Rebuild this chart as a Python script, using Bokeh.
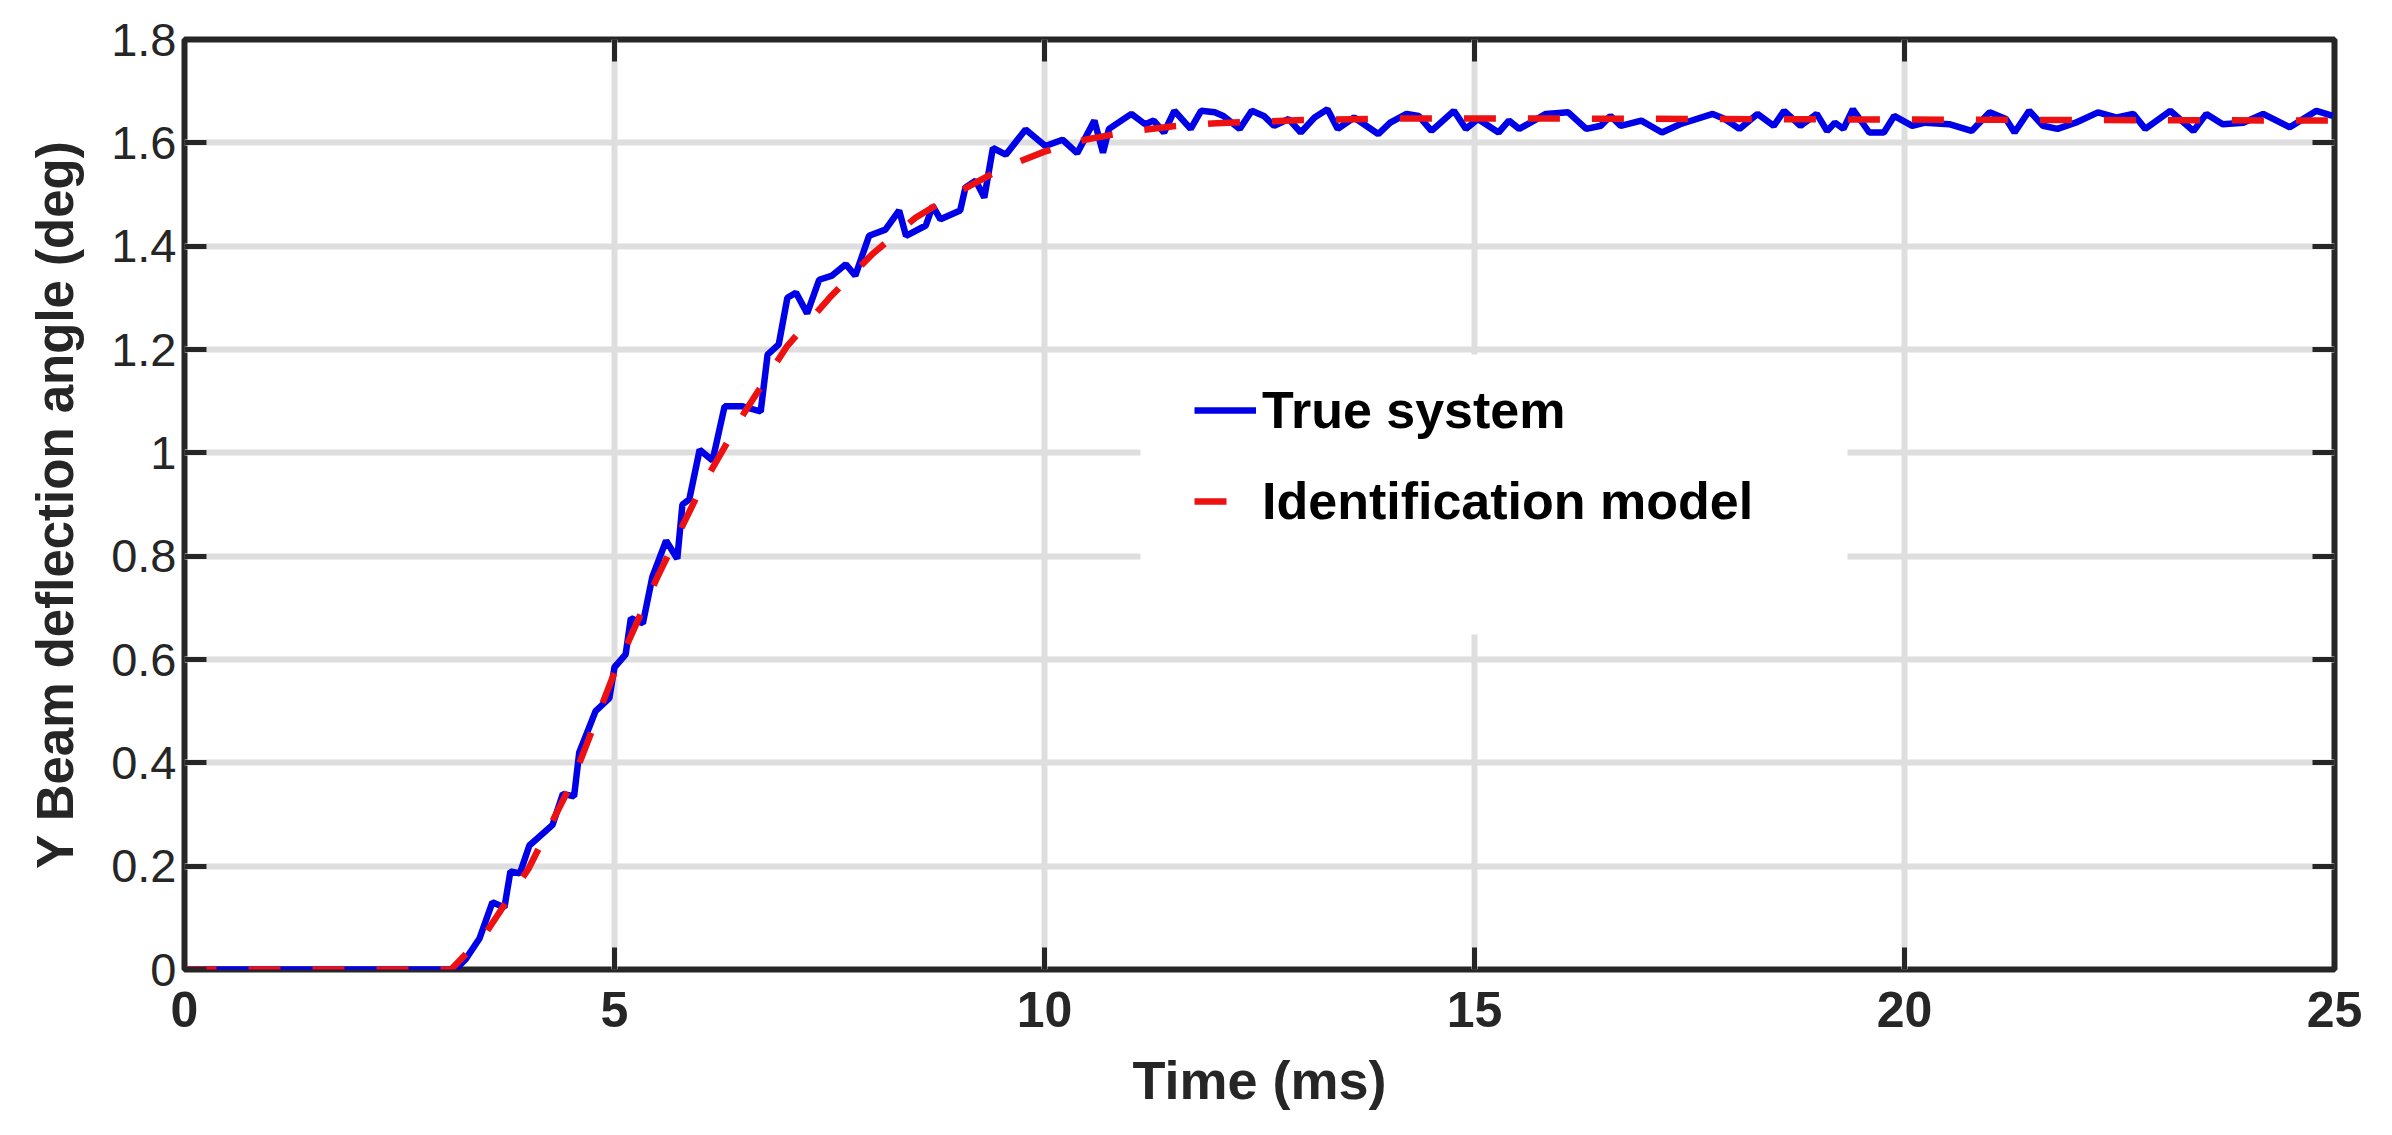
from bokeh.plotting import figure
from bokeh.models import Legend, LegendItem, LinearAxis, FixedTicker, BoxAnnotation
from bokeh.embed import file_html
from bokeh.resources import INLINE

# ---- data ----
t_true = [0, 3.15, 3.27, 3.43, 3.58, 3.72, 3.79, 3.90, 4.01, 4.28, 4.40, 4.53, 4.59, 4.78,
          4.94, 5.00, 5.13, 5.19, 5.33, 5.44, 5.60, 5.73, 5.79, 5.87, 5.99, 6.14, 6.28, 6.49,
          6.70, 6.78, 6.91, 7.01, 7.11, 7.24, 7.38, 7.53, 7.69, 7.80, 7.96, 8.15, 8.31, 8.39,
          8.62, 8.70, 8.79, 9.02, 9.08, 9.20, 9.30, 9.40, 9.55, 9.78, 10.01, 10.21, 10.38,
          10.58, 10.68, 10.75, 11.01, 11.17, 11.27, 11.39, 11.51, 11.70, 11.82, 11.98, 12.08,
          12.27, 12.41, 12.55, 12.67, 12.84, 12.98, 13.14, 13.29, 13.41, 13.60, 13.88, 14.02,
          14.21, 14.35, 14.50, 14.76, 14.90, 15.04, 15.28, 15.40, 15.52, 15.83, 16.09, 16.30,
          16.47, 16.58, 16.70, 16.94, 17.18, 17.39, 17.77, 17.91, 18.08, 18.29, 18.48, 18.60,
          18.79, 18.98, 19.10, 19.19, 19.29, 19.40, 19.59, 19.76, 19.88, 20.09, 20.24, 20.52,
          20.78, 20.99, 21.18, 21.28, 21.45, 21.61, 21.78, 21.99, 22.25, 22.47, 22.66, 22.80,
          23.09, 23.36, 23.51, 23.70, 23.94, 24.17, 24.48, 24.79, 24.98]
v_true = [0, 0, 0.02, 0.06, 0.13, 0.12, 0.19, 0.186, 0.24, 0.28, 0.34, 0.335, 0.42, 0.50,
          0.525, 0.585, 0.61, 0.68, 0.67, 0.76, 0.83, 0.795, 0.90, 0.91, 1.006, 0.985, 1.09, 1.09,
          1.08, 1.19, 1.21, 1.30, 1.31, 1.27, 1.335, 1.343, 1.365, 1.343, 1.42, 1.432, 1.469, 1.42,
          1.44, 1.478, 1.452, 1.469, 1.513, 1.527, 1.494, 1.59, 1.577, 1.626, 1.594, 1.606, 1.58,
          1.643, 1.581, 1.627, 1.656, 1.636, 1.643, 1.62, 1.662, 1.627, 1.662, 1.659, 1.652,
          1.627, 1.662, 1.652, 1.633, 1.646, 1.62, 1.649, 1.665, 1.627, 1.649, 1.617, 1.639,
          1.656, 1.652, 1.623, 1.662, 1.627, 1.646, 1.62, 1.643, 1.627, 1.656, 1.659, 1.627,
          1.633, 1.652, 1.633, 1.643, 1.62, 1.636, 1.656, 1.646, 1.627, 1.656, 1.633, 1.662,
          1.633, 1.656, 1.623, 1.639, 1.627, 1.665, 1.62, 1.62, 1.652, 1.633, 1.639, 1.636,
          1.623, 1.659, 1.646, 1.62, 1.662, 1.633, 1.627, 1.639, 1.659, 1.649, 1.656, 1.627,
          1.662, 1.623, 1.656, 1.636, 1.639, 1.656, 1.630, 1.662, 1.652]

t_model = [0, 3.1, 3.5, 4.0, 4.5, 5.0, 5.5, 6.0, 6.5, 7.0, 7.5, 8.0, 8.5, 9.0, 9.5, 10.0,
           10.5, 11.0, 11.5, 12.0, 13.0, 14.0, 16.0, 20.0, 25.0]
v_model = [0, 0, 0.07, 0.195, 0.36, 0.575, 0.76, 0.93, 1.075, 1.205, 1.30, 1.385, 1.455,
           1.505, 1.55, 1.583, 1.607, 1.622, 1.632, 1.638, 1.644, 1.647, 1.647, 1.645, 1.643]

x_ticks = [0, 5, 10, 15, 20, 25]
x_tick_labels = ["0", "5", "10", "15", "20", "25"]
y_ticks = [0, 0.2, 0.4, 0.6, 0.8, 1.0, 1.2, 1.4, 1.6, 1.8]
y_tick_labels = ["0", "0.2", "0.4", "0.6", "0.8", "1", "1.2", "1.4", "1.6", "1.8"]

series_names = ["True system", "Identification model"]

AX = "#262626"
FONT = "Liberation Sans"

p = figure(width=2376, height=1119, x_range=(0, 25), y_range=(0, 1.8),
           output_backend="svg", toolbar_location=None,
           min_border_left=184, min_border_right=42, min_border_top=39, min_border_bottom=150)
p.background_fill_color = "white"
p.border_fill_color = "white"
p.outline_line_color = AX
p.outline_line_width = 6

blue = p.line(t_true, v_true, line_color="#0000e8", line_width=6.5)
red = p.line(t_model, v_model, line_color="#ee1111", line_width=6.5, line_dash="32 32")

# grids
p.xgrid.ticker = FixedTicker(ticks=x_ticks)
p.ygrid.ticker = FixedTicker(ticks=y_ticks)
for g in (p.xgrid, p.ygrid):
    g.grid_line_color = "#dedede"
    g.grid_line_width = 6

# axes
xa = p.xaxis[0]
ya = p.yaxis[0]
xa.ticker = FixedTicker(ticks=x_ticks)
ya.ticker = FixedTicker(ticks=y_ticks)
xa.major_label_overrides = dict(zip(x_ticks, x_tick_labels))
ya.major_label_overrides = dict(zip(y_ticks, y_tick_labels))
xa.axis_label = "Time (ms)"
ya.axis_label = "Y Beam deflection angle (deg)"

for ax in (xa, ya):
    ax.axis_line_color = None
    ax.major_tick_in = 22
    ax.major_tick_out = 0
    ax.major_tick_line_width = 5
    ax.major_tick_line_color = AX
    ax.minor_tick_line_color = None
    ax.major_label_text_font = FONT
    ax.major_label_text_color = AX
    ax.axis_label_text_font = FONT
    ax.axis_label_text_font_style = "bold"
    ax.axis_label_text_color = AX

xa.major_label_text_font_size = "50px"
xa.major_label_text_font_style = "bold"
xa.major_label_standoff = 22
xa.axis_label_text_font_size = "54px"
xa.axis_label_standoff = 20

ya.major_label_text_font_size = "47px"
ya.major_label_text_font_style = "normal"
ya.major_label_standoff = 8
ya.axis_label_text_font_size = "51px"
ya.axis_label_standoff = 24

# mirrored inside ticks on top and right
top = LinearAxis(ticker=FixedTicker(ticks=x_ticks))
right = LinearAxis(ticker=FixedTicker(ticks=y_ticks))
for ax in (top, right):
    ax.axis_line_color = None
    ax.major_tick_in = 22
    ax.major_tick_out = 0
    ax.major_tick_line_width = 5
    ax.major_tick_line_color = AX
    ax.minor_tick_line_color = None
    ax.major_label_text_font_size = "0px"
    ax.major_label_text_color = None
    ax.major_label_standoff = 0
p.add_layout(top, "above")
p.add_layout(right, "right")

# white legend background box (screen units, relative to the plot frame)
legend_bg = BoxAnnotation(left=956, right=1663, bottom=335, top=615,
                          left_units="screen", right_units="screen",
                          top_units="screen", bottom_units="screen",
                          fill_color="white", fill_alpha=1.0, line_color=None)
p.add_layout(legend_bg)

legend = Legend(items=[LegendItem(label=series_names[0], renderers=[blue]),
                       LegendItem(label=series_names[1], renderers=[red])],
                location=(1010, 438))
legend.label_text_font = FONT
legend.label_text_font_style = "bold"
legend.label_text_font_size = "52px"
legend.label_text_color = "black"
legend.glyph_width = 62
legend.glyph_height = 58
legend.label_height = 58
legend.label_standoff = 6
legend.spacing = 31
legend.padding = 40
legend.margin = 0
legend.border_line_color = None
legend.background_fill_color = "white"
legend.background_fill_alpha = 1.0
p.add_layout(legend, "center")

open("out.html", "w").write(file_html(p, INLINE))
